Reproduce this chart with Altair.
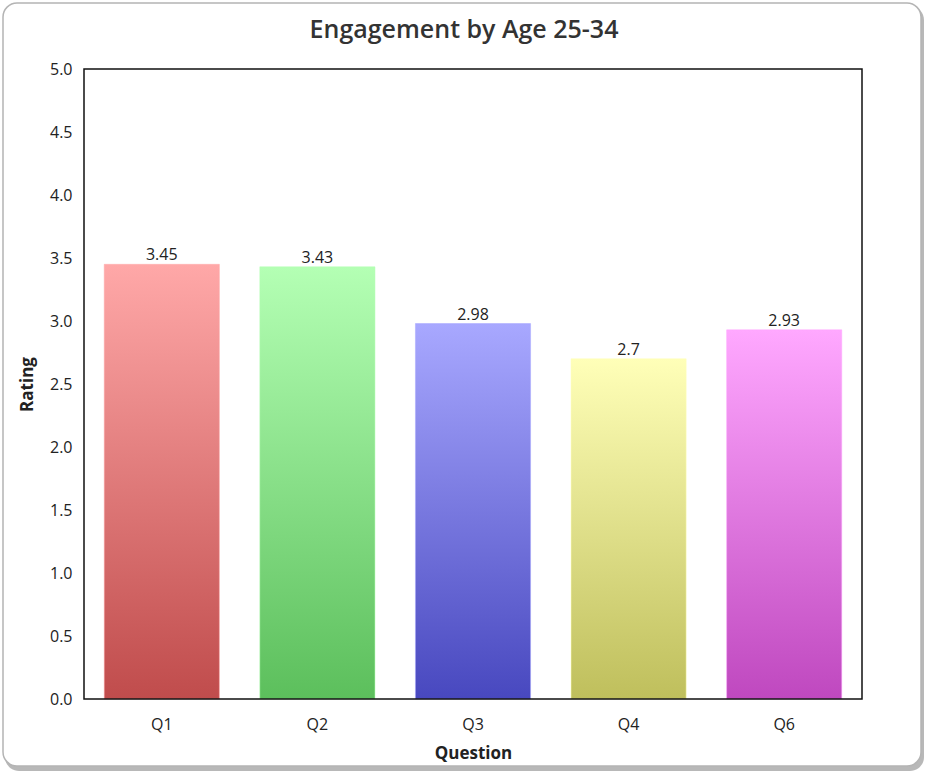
import altair as alt
import pandas as pd

questions = ["Q1", "Q2", "Q3", "Q4", "Q6"]
ratings = [3.45, 3.43, 2.98, 2.7, 2.93]
top_colors = ["#ffa8a8", "#b4ffb4", "#a8a8ff", "#ffffb8", "#ffa8ff"]
bottom_colors = ["#c04c4c", "#5cbf5c", "#4848bf", "#bfbf5c", "#bf48bf"]
title_text = ["Engagement by Age 25-34"]

df = pd.DataFrame({"Question": questions, "Rating": ratings})
one = pd.DataFrame({"k": [0]})
tdf = pd.DataFrame({"t": title_text})

W, H = 778, 630
FONT = "Open Sans"

x_enc = alt.X("Question:N", sort=questions, title="Question",
              scale=alt.Scale(paddingInner=0.26, paddingOuter=0.13),
              axis=alt.Axis(labelAngle=0, ticks=False, domain=False, labelPadding=17,
                            labelFontSize=16, labelColor="#222", titleFontSize=17,
                            titleFontWeight="bold", titleColor="#222", titlePadding=13,
                            labelFont=FONT, titleFont=FONT, zindex=2))
y_enc = alt.Y("Rating:Q", title="Rating",
              scale=alt.Scale(domain=[0, 5], nice=False),
              axis=alt.Axis(values=[0, 0.5, 1, 1.5, 2, 2.5, 3, 3.5, 4, 4.5, 5], format=".1f",
                            ticks=False, domain=False, grid=False, labelPadding=12,
                            labelFontSize=16, labelColor="#222", titleFontSize=17,
                            titleFontWeight="bold", titleColor="#222", titlePadding=13,
                            labelFont=FONT, titleFont=FONT, zindex=2))

shadow = alt.Chart(one).mark_rect(fill="#9a9a9a", opacity=0.7, cornerRadius=14).encode(
    x=alt.value(-79), x2=alt.value(840), y=alt.value(-63), y2=alt.value(702))
frame = alt.Chart(one).mark_rect(fill="white", stroke="#b4b4b4", strokeWidth=1.5,
                                 cornerRadius=14).encode(
    x=alt.value(-81), x2=alt.value(837), y=alt.value(-66), y2=alt.value(697))

title = alt.Chart(tdf).mark_text(fontSize=25, font=FONT, fontWeight=600, color="#333",
                                 baseline="middle", align="center").encode(
    text="t:N", x=alt.value(380), y=alt.value(-39))

bars = []
for q, tc, bc in zip(questions, top_colors, bottom_colors):
    grad = alt.Gradient(gradient="linear",
                        stops=[alt.GradientStop(color=tc, offset=0),
                               alt.GradientStop(color=bc, offset=1)],
                        x1=0, x2=0, y1=0, y2=1)
    bars.append(
        alt.Chart(df).transform_filter(alt.datum.Question == q)
        .mark_bar(fill=grad, stroke=tc, strokeWidth=0.5)
        .encode(x=x_enc, y=y_enc)
    )

text = alt.Chart(df).mark_text(baseline="bottom", dy=-1, fontSize=16, color="#222",
                               font=FONT).encode(
    x=alt.X("Question:N", sort=questions),
    y="Rating:Q",
    text=alt.Text("Rating:Q", format=".3~g"))

border = alt.Chart(one).mark_rect(fill=None, stroke="#111", strokeWidth=1.5).encode(
    x=alt.value(0), x2=alt.value(W), y=alt.value(0), y2=alt.value(H))

chart = alt.layer(shadow, frame, title, *bars, text, border).properties(
    width=W, height=H,
    autosize=alt.AutoSizeParams(type="none"),
    padding={"left": 84, "top": 69, "right": 63, "bottom": 73},
).configure_view(stroke=None).configure(background="white")

chart.save("out.html", embed_options={"renderer": "svg", "actions": False})
